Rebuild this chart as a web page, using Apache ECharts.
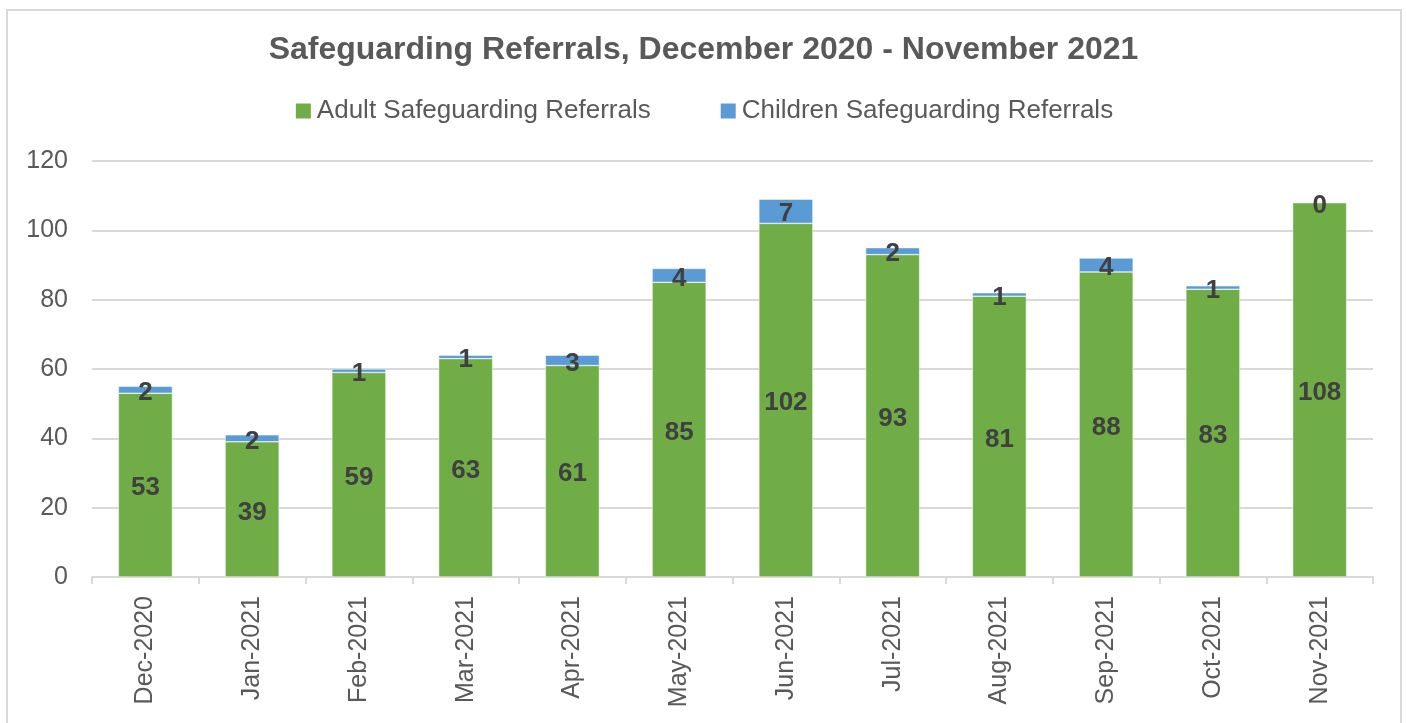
<!DOCTYPE html>
<html>
<head>
<meta charset="utf-8">
<script src="https://cdn.jsdelivr.net/npm/echarts@6/dist/echarts.min.js"></script>
<style>
  html, body { margin: 0; padding: 0; background: #fff; }
  #chart { width: 1407px; height: 723px; }
</style>
</head>
<body>
<div id="chart"></div>
<script>
// data
const months = ['Dec-2020', 'Jan-2021', 'Feb-2021', 'Mar-2021', 'Apr-2021', 'May-2021',
                'Jun-2021', 'Jul-2021', 'Aug-2021', 'Sep-2021', 'Oct-2021', 'Nov-2021'];
const adultReferrals = [53, 39, 59, 63, 61, 85, 102, 93, 81, 88, 83, 108];
const childrenReferrals = [2, 2, 1, 1, 3, 4, 7, 2, 1, 4, 1, 0];
const seriesNames = ['Adult Safeguarding Referrals', 'Children Safeguarding Referrals'];

const font = '"Liberation Sans", Arial, sans-serif';

let chart = echarts.init(document.getElementById('chart'));

let labelStyle = {
    show: true,
    position: 'inside',
    offset: [0, 3],
    color: '#404040',
    fontFamily: font,
    fontSize: 26,
    fontWeight: 'bold'
};

chart.setOption({
    animation: false,
    color: ['#70ad47', '#5b9bd5'],
    title: {
        text: 'Safeguarding Referrals, December 2020 - November 2021',
        left: 'center',
        top: 29,
        textStyle: {
            color: '#595959',
            fontFamily: font,
            fontSize: 32,
            fontWeight: 'bold'
        }
    },
    legend: {
        top: 93,
        left: 'center',
        itemWidth: 17,
        itemHeight: 17,
        itemGap: 68,
        icon: 'rect',
        textStyle: {
            color: '#595959',
            fontFamily: font,
            fontSize: 26
        },
        data: seriesNames
    },
    grid: {
        left: 92,
        right: 34,
        top: 161,
        bottom: 146,
        containLabel: false
    },
    xAxis: {
        type: 'category',
        data: months,
        axisLine: { lineStyle: { color: '#d9d9d9', width: 2 } },
        axisTick: { show: true, length: 7, lineStyle: { color: '#d9d9d9', width: 2 } },
        axisLabel: {
            rotate: 90,
            margin: 19,
            color: '#595959',
            fontFamily: font,
            fontSize: 25
        }
    },
    yAxis: {
        type: 'value',
        min: 0,
        max: 120,
        interval: 20,
        axisLine: { show: false },
        axisTick: { show: false },
        splitLine: { lineStyle: { color: '#d9d9d9', width: 2 } },
        axisLabel: {
            margin: 24,
            color: '#595959',
            fontFamily: font,
            fontSize: 25
        }
    },
    series: [{
        name: seriesNames[0],
        type: 'bar',
        stack: 'total',
        barWidth: 54,
        data: adultReferrals,
        itemStyle: { borderColor: '#ffffff', borderWidth: 0.5 },
        label: labelStyle
    }, {
        name: seriesNames[1],
        type: 'bar',
        stack: 'total',
        barWidth: 54,
        data: childrenReferrals,
        itemStyle: { borderColor: '#ffffff', borderWidth: 0.5 },
        label: labelStyle
    }],
    graphic: [{
        type: 'rect',
        shape: { x: 7, y: 10, width: 1394, height: 730 },
        style: { fill: 'none', stroke: '#d9d9d9', lineWidth: 2 },
        silent: true
    }]
});
</script>
</body>
</html>
